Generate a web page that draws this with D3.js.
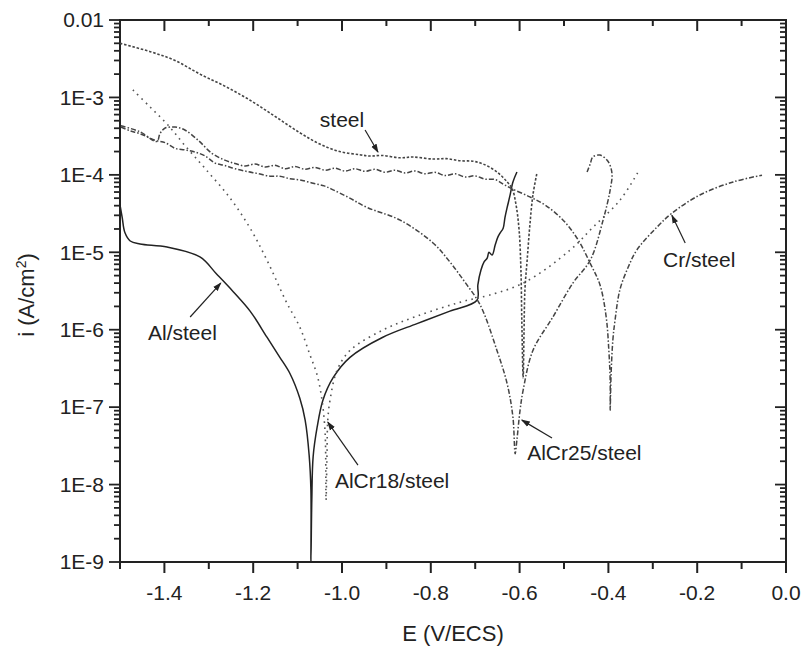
<!DOCTYPE html>
<html lang="en">
<head>
    <meta charset="UTF-8">
    <script src="https://d3js.org/d3.v7.min.js"></script>
    <title>Polarization curves</title>
    <style>
        body { margin: 0; background: #fff; }
        svg text { font-family: "Liberation Sans", Arial, sans-serif; fill: #222; }
    </style>
</head>
<body>
<div id="chart"></div>

<script>
    // axis ticks
    const xMajor = [-1.4, -1.2, -1.0, -0.8, -0.6, -0.4, -0.2, 0.0];
    const xMinor = [-1.5, -1.3, -1.1, -0.9, -0.7, -0.5, -0.3, -0.1];
    const yMajor = [1e-9, 1e-8, 1e-7, 1e-6, 1e-5, 1e-4, 1e-3, 1e-2];
    const yLabels = ["1E-9", "1E-8", "1E-7", "1E-6", "1E-5", "1E-4", "1E-3", "0.01"];

    // [E (V/ECS), i (A/cm2)]
    const steel = [
        [-1.500, 5.0e-3], [-1.432, 3.9e-3], [-1.376, 3.0e-3], [-1.320, 2.0e-3], [-1.264, 1.4e-3],
        [-1.207, 9.2e-4], [-1.151, 5.7e-4], [-1.095, 3.5e-4], [-1.050, 2.5e-4], [-1.005, 2.0e-4],
        [-0.960, 1.82e-4], [-0.937, 1.75e-4], [-0.910, 1.78e-4], [-0.869, 1.66e-4], [-0.840, 1.7e-4],
        [-0.795, 1.6e-4], [-0.765, 1.62e-4], [-0.734, 1.52e-4], [-0.705, 1.5e-4], [-0.682, 1.38e-4],
        [-0.651, 1.09e-4], [-0.628, 8.1e-5], [-0.617, 6.7e-5], [-0.608, 4.1e-5], [-0.601, 1.9e-5],
        [-0.597, 5.9e-6], [-0.595, 1.3e-6], [-0.592, 2.4e-7], [-0.590, 9.9e-7], [-0.588, 3.3e-6],
        [-0.583, 7.9e-6], [-0.577, 2.2e-5], [-0.570, 5.5e-5], [-0.561, 1.05e-4]
    ];
    const alSteel = [
        [-1.500, 4.1e-5], [-1.495, 2.8e-5], [-1.489, 1.8e-5], [-1.477, 1.4e-5], [-1.455, 1.28e-5],
        [-1.394, 1.17e-5], [-1.320, 8.7e-6], [-1.282, 5.2e-6], [-1.245, 3.1e-6], [-1.207, 1.74e-6],
        [-1.169, 8.0e-7], [-1.140, 4.4e-7], [-1.117, 2.7e-7], [-1.095, 1.3e-7], [-1.083, 6.8e-8],
        [-1.074, 2.4e-8], [-1.070, 8.5e-9], [-1.070, 1e-9], [-1.068, 6.3e-9], [-1.065, 2.3e-8],
        [-1.056, 5.5e-8], [-1.043, 1.23e-7], [-1.020, 2.4e-7], [-0.982, 4.4e-7], [-0.908, 8.0e-7],
        [-0.831, 1.2e-6], [-0.757, 1.74e-6], [-0.696, 2.4e-6], [-0.694, 3.8e-6], [-0.687, 5.9e-6],
        [-0.680, 7.5e-6], [-0.673, 8.4e-6], [-0.669, 1.0e-5], [-0.662, 9.2e-6], [-0.655, 1.24e-5],
        [-0.649, 1.57e-5], [-0.644, 1.77e-5], [-0.637, 2.05e-5], [-0.633, 2.8e-5], [-0.628, 3.8e-5],
        [-0.622, 5.3e-5], [-0.615, 8.1e-5], [-0.606, 1.09e-4]
    ];
    const alCr18 = [
        [-1.471, 1.25e-3], [-1.432, 7.5e-4], [-1.392, 4.4e-4], [-1.354, 2.4e-4], [-1.309, 1.22e-4],
        [-1.252, 5.0e-5], [-1.207, 2.05e-5], [-1.169, 7.9e-6], [-1.124, 2.2e-6], [-1.095, 1.08e-6],
        [-1.072, 4.7e-7], [-1.056, 2.6e-7], [-1.045, 1.23e-7], [-1.038, 4.6e-8], [-1.036, 6.3e-9],
        [-1.034, 2.1e-8], [-1.032, 6.8e-8], [-1.027, 1.23e-7], [-1.011, 3.0e-7], [-0.982, 5.4e-7],
        [-0.908, 9.9e-7], [-0.831, 1.5e-6], [-0.718, 2.4e-6], [-0.689, 2.6e-6], [-0.592, 4.0e-6],
        [-0.486, 1.07e-5], [-0.435, 2.1e-5], [-0.374, 4.7e-5], [-0.333, 1.09e-4]
    ];
    const alCr25 = [
        [-1.498, 4.15e-4], [-1.477, 3.7e-4], [-1.455, 3.4e-4], [-1.421, 2.8e-4], [-1.398, 2.6e-4],
        [-1.376, 2.2e-4], [-1.353, 2.1e-4], [-1.331, 1.97e-4], [-1.308, 1.75e-4], [-1.286, 1.42e-4],
        [-1.264, 1.32e-4], [-1.241, 1.2e-4], [-1.212, 1.1e-4], [-1.190, 1.04e-4], [-1.162, 9.6e-5],
        [-1.140, 9.6e-5], [-1.117, 8.9e-5], [-1.095, 8.6e-5], [-1.065, 7.8e-5], [-1.040, 7.2e-5],
        [-1.020, 6.4e-5], [-0.985, 5.1e-5], [-0.944, 3.8e-5], [-0.869, 2.6e-5], [-0.795, 1.32e-5],
        [-0.757, 7.5e-6], [-0.723, 4.1e-6], [-0.689, 2.1e-6], [-0.651, 5.4e-7], [-0.628, 2.0e-7],
        [-0.615, 7.4e-8], [-0.610, 2.5e-8], [-0.606, 3.8e-8], [-0.599, 9.1e-8], [-0.592, 1.66e-7],
        [-0.570, 5.4e-7], [-0.525, 1.46e-6], [-0.480, 4.0e-6], [-0.441, 7.9e-6], [-0.412, 2.6e-5],
        [-0.396, 6.4e-5], [-0.392, 1.05e-4], [-0.401, 1.5e-4], [-0.419, 1.8e-4], [-0.435, 1.7e-4],
        [-0.441, 1.38e-4], [-0.448, 1.09e-4]
    ];
    const crSteel = [
        [-1.498, 4.3e-4], [-1.455, 3.6e-4], [-1.417, 2.7e-4], [-1.410, 3.4e-4], [-1.399, 4.0e-4],
        [-1.376, 4.15e-4], [-1.354, 3.8e-4], [-1.324, 2.8e-4], [-1.293, 1.9e-4], [-1.264, 1.55e-4],
        [-1.241, 1.40e-4], [-1.218, 1.30e-4], [-1.196, 1.38e-4], [-1.173, 1.26e-4], [-1.151, 1.33e-4],
        [-1.128, 1.20e-4], [-1.106, 1.28e-4], [-1.083, 1.18e-4], [-1.061, 1.25e-4], [-1.038, 1.15e-4],
        [-1.016, 1.22e-4], [-0.993, 1.12e-4], [-0.971, 1.20e-4], [-0.948, 1.11e-4], [-0.926, 1.18e-4],
        [-0.903, 1.08e-4], [-0.881, 1.15e-4], [-0.858, 1.06e-4], [-0.836, 1.12e-4], [-0.813, 1.03e-4],
        [-0.791, 1.08e-4], [-0.768, 9.8e-5], [-0.745, 1.03e-4], [-0.723, 9.4e-5], [-0.700, 9.7e-5],
        [-0.678, 8.8e-5], [-0.655, 8.7e-5], [-0.637, 7.6e-5], [-0.617, 6.6e-5], [-0.577, 5.2e-5],
        [-0.543, 4.1e-5], [-0.502, 2.6e-5], [-0.468, 1.44e-5], [-0.441, 7.2e-6], [-0.419, 3.8e-6],
        [-0.405, 1.46e-6], [-0.399, 5.4e-7], [-0.396, 2.2e-7], [-0.396, 9.1e-8], [-0.394, 2.6e-7],
        [-0.390, 7.3e-7], [-0.385, 1.33e-6], [-0.374, 3.3e-6], [-0.356, 6.3e-6], [-0.336, 1.07e-5],
        [-0.291, 2.1e-5], [-0.257, 3.2e-5], [-0.194, 5.5e-5], [-0.119, 8.1e-5], [-0.054, 9.9e-5]
    ];

    // label text, text anchor [E, i], arrow tail [E, i], arrow tip [E, i]
    const notes = [
        {text: "steel", at: [-1.050, 4.15e-4], from: [-0.948, 3.8e-4], to: [-0.919, 1.97e-4]},
        {text: "Al/steel", at: [-1.437, 7.3e-7], from: [-1.342, 1.46e-6], to: [-1.273, 4.0e-6]},
        {text: "AlCr18/steel", at: [-1.016, 9.0e-9], from: [-0.964, 1.78e-8], to: [-1.032, 6.4e-8]},
        {text: "AlCr25/steel", at: [-0.583, 2.07e-8], from: [-0.527, 4.0e-8], to: [-0.595, 6.8e-8]},
        {text: "Cr/steel", at: [-0.277, 6.4e-6], from: [-0.227, 1.32e-5], to: [-0.257, 3.0e-5]}
    ];

    const margin = {top: 20, right: 19, bottom: 85, left: 120},
        width = 805 - margin.left - margin.right,
        height = 647 - margin.top - margin.bottom;

    const svg = d3.select("#chart").append("svg")
        .attr("width", 805)
        .attr("height", 647);

    const defs = svg.append("defs");
    defs.append("marker")
        .attr("id", "head")
        .attr("markerUnits", "userSpaceOnUse")
        .attr("markerWidth", 9).attr("markerHeight", 7)
        .attr("refX", 8).attr("refY", 3.5)
        .attr("orient", "auto")
        .append("path").attr("d", "M0,0.5 L9,3.5 L0,6.5 z").attr("fill", "#222");
    defs.append("clipPath").attr("id", "plot")
        .append("rect").attr("width", width).attr("height", height);

    const g = svg.append("g")
        .attr("transform", "translate(" + margin.left + "," + margin.top + ")");

    const x = d3.scaleLinear().domain([-1.5, 0]).range([0, width]);
    const y = d3.scaleLog().domain([1e-9, 1e-2]).range([height, 0]);
    const yMinor = y.ticks().filter(v => yMajor.indexOf(v) < 0);

    // tick marks: bottom/left point out, top/right point in
    function xTicks(vals, y0, len) {
        g.append("g").selectAll("line").data(vals).enter().append("line")
            .attr("x1", d => x(d)).attr("x2", d => x(d))
            .attr("y1", y0).attr("y2", y0 + len)
            .attr("stroke", "#222").attr("stroke-width", 2);
    }
    function yTicks(vals, x0, len) {
        g.append("g").selectAll("line").data(vals).enter().append("line")
            .attr("y1", d => y(d)).attr("y2", d => y(d))
            .attr("x1", x0).attr("x2", x0 + len)
            .attr("stroke", "#222").attr("stroke-width", 1.8);
    }
    xTicks(xMajor, height, 11);
    xTicks(xMinor, height, 7);
    xTicks(xMajor, 0, 11);
    xTicks(xMinor, 0, 6);
    yTicks(yMajor, 0, -11);
    yTicks(yMinor, 0, -6);
    yTicks(yMajor, width, -11);
    yTicks(yMinor, width, -6);

    g.append("g").selectAll("text").data(xMajor).enter().append("text")
        .attr("x", d => x(d)).attr("y", height + 38)
        .attr("text-anchor", "middle")
        .style("font-size", "21px")
        .text(d => d.toFixed(1));

    g.append("g").selectAll("text").data(yMajor).enter().append("text")
        .attr("x", -16).attr("y", d => y(d)).attr("dy", "0.35em")
        .attr("text-anchor", "end")
        .style("font-size", "21px")
        .text((d, i) => yLabels[i]);

    g.append("rect")
        .attr("width", width).attr("height", height)
        .attr("fill", "none").attr("stroke", "#222").attr("stroke-width", 2);

    // curves
    const line = d3.line()
        .x(d => x(d[0])).y(d => y(d[1]))
        .curve(d3.curveCatmullRom.alpha(0.5));
    const curves = [
        {data: alSteel, dash: null, color: "#222", w: 1.5},
        {data: steel, dash: "2.5,1.8", color: "#444", w: 1.6},
        {data: alCr18, dash: "1.6,4.5", color: "#555", w: 1.6},
        {data: alCr25, dash: "5,2,1.5,2", color: "#444", w: 1.5},
        {data: crSteel, dash: "5,2,1.5,2", color: "#444", w: 1.5}
    ];

    g.append("g").attr("clip-path", "url(#plot)")
        .selectAll("path")
        .data(curves)
        .enter().append("path")
        .attr("d", d => line(d.data))
        .attr("fill", "none")
        .attr("stroke", d => d.color)
        .attr("stroke-width", d => d.w)
        .attr("stroke-dasharray", d => d.dash)
        .attr("stroke-linejoin", "round");

    // labels with arrows
    const note = g.selectAll(".note").data(notes).enter().append("g").attr("class", "note");
    note.append("line")
        .attr("x1", d => x(d.from[0])).attr("y1", d => y(d.from[1]))
        .attr("x2", d => x(d.to[0])).attr("y2", d => y(d.to[1]))
        .attr("stroke", "#222").attr("stroke-width", 1.2)
        .attr("marker-end", "url(#head)");
    note.append("text")
        .attr("x", d => x(d.at[0])).attr("y", d => y(d.at[1]))
        .style("font-size", "21px")
        .text(d => d.text);

    // axis titles
    svg.append("text")
        .attr("x", margin.left + width / 2).attr("y", 641)
        .attr("text-anchor", "middle")
        .style("font-size", "22px")
        .text("E (V/ECS)");

    const yt = svg.append("text")
        .attr("transform", "translate(34," + (margin.top + height / 2 + 4) + ") rotate(-90)")
        .attr("text-anchor", "middle")
        .style("font-size", "22px");
    yt.append("tspan").text("i (A/cm");
    yt.append("tspan").attr("dy", -8).style("font-size", "14px").text("2");
    yt.append("tspan").attr("dy", 8).text(")");
</script>

</body>
</html>
